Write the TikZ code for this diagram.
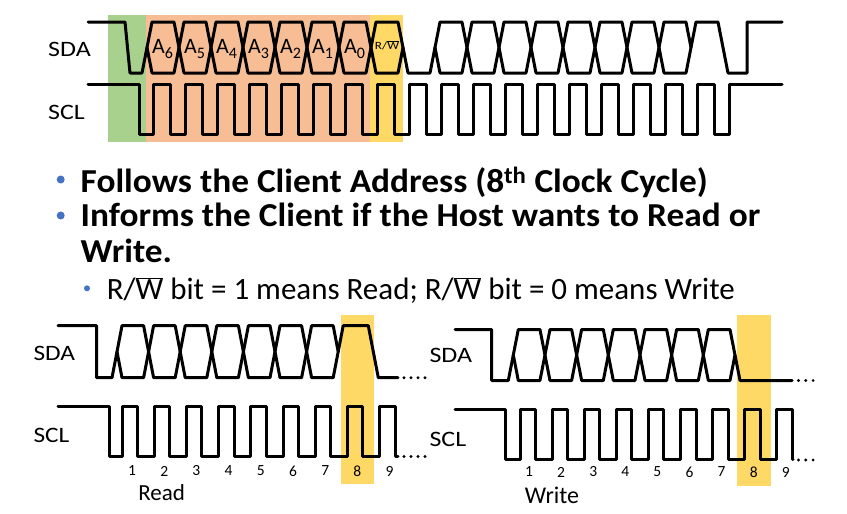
\documentclass[tikz,border=0pt]{standalone}
\usepackage{fontspec}
\setmainfont{Carlito}
\definecolor{gcol}{RGB}{169,209,142}
\definecolor{ocol}{RGB}{247,190,150}
\definecolor{ycol}{RGB}{255,217,102}
\definecolor{bcol}{RGB}{68,114,196}
\newcommand{\rwbar}{R/$\overline{\hbox{W}}$}
\newcommand{\abit}[1]{A{\fontsize{16}{16}\selectfont\raisebox{-4.5pt}{#1}}}
\begin{document}
\begin{tikzpicture}[x=1pt,y=-1pt,
  wave/.style={line width=3pt,line join=round,line cap=round},
  sig/.style={font=\fontsize{22}{24}\selectfont,anchor=base west,inner sep=0pt,xscale=1.18},
  bit/.style={font=\fontsize{22}{24}\selectfont,inner sep=0pt},
  num/.style={font=\fontsize{15.5}{17}\selectfont,inner sep=0pt},
  dotc/.style={fill=black,circle,inner sep=0pt,minimum size=3.2pt},
  big/.style={font=\fontsize{33.5}{36}\selectfont\bfseries,anchor=base west,inner sep=0pt,xscale=1.055},
  small/.style={font=\fontsize{31}{33}\selectfont,anchor=base west,inner sep=0pt},
  captxt/.style={font=\fontsize{24}{26}\selectfont,anchor=base,inner sep=0pt}]
\useasboundingbox (0,0) rectangle (847,514);
% ---------- top diagram ----------
\fill[gcol] (108,15) rectangle (146,142);
\fill[ocol] (146,15) rectangle (370,142);
\fill[ycol] (370,15) rectangle (403,142);
\node[sig] (sdaT) at (48,56.3) {SDA};
\node[sig] (sclT) at (48,119) {SCL};
\draw[wave] (88,22) -- (125,22) -- (130,73) -- (142,73) -- (147,47.5);
\foreach \k in {0,1,2,3,4,5,6,7,9,10,11,12,13,14,15,16}{
  \draw[wave] ({147+32*\k},47.5) -- ({152+32*\k},22) -- ({174+32*\k},22) -- ({179+32*\k},47.5) -- ({174+32*\k},73) -- ({152+32*\k},73) -- cycle;
}
\draw[wave] (403,47.5) -- (408,73) -- (430,73) -- (435,47.5);
\draw[wave] (691,47.5) -- (696,22) -- (718,22) -- (728,73) -- (747,73) -- (747,22) -- (782,22);
\foreach \k/\n in {0/6,1/5,2/4,3/3,4/2,5/1,6/0}{
  \node[bit] (a\n) at ({162.5+32*\k},49) {\abit{\n}};
}
\node[font=\fontsize{11}{12}\selectfont,inner sep=0pt,xscale=1.2] (rwT) at (387,45.5) {\rwbar};
\draw[wave] (88,84) -- (139,84) -- (139,134)
  \foreach \k in {0,...,17}{ -- ({153+32*\k},134) -- ({153+32*\k},84) -- ({170+32*\k},84) -- ({170+32*\k},134)}
  -- (729,134) -- (729,84) -- (782,84);
% ---------- bullets ----------
\fill[bcol] (60.7,179.5) circle (4);
\fill[bcol] (60.7,215.5) circle (4);
\fill[bcol] (87,288.3) circle (3);
\node[big] (l1) at (80.5,192.3) {Follows the Client Address (8\textsuperscript{th} Clock Cycle)};
\node[big] (l2) at (80.5,226.5) {Informs the Client if the Host wants to Read or};
\node[big] (l3) at (80.5,262.5) {Write.};
\node[small] (l4) at (106.7,299) {\rwbar{} bit = 1 means Read; \rwbar{} bit = 0 means Write};
% ---------- bottom left (Read) ----------
\fill[ycol] (341,315) rectangle (374,484);
\node[sig,xscale=0.975] (sdaL) at (33.3,360) {SDA};
\node[sig,xscale=0.975] (sclL) at (33.3,442) {SCL};
\draw[wave] (58,325.7) -- (96.5,325.7) -- (96.5,377.7) -- (112,377.7) -- (117,351.7);
\foreach \k in {0,...,6}{
  \draw[wave] ({117+31.6*\k},351.7) -- ({122+31.6*\k},325.7) -- ({143.6+31.6*\k},325.7) -- ({148.6+31.6*\k},351.7) -- ({143.6+31.6*\k},377.7) -- ({122+31.6*\k},377.7) -- cycle;
}
\draw[wave] (338.2,351.7) -- (343.2,325.7) -- (368.3,325.7) -- (378.3,377.7) -- (398,377.7);
\draw[wave] (58,406.7) -- (109,406.7) -- (109,456)
  \foreach \k in {0,...,8}{ -- ({122+32.2*\k},456) -- ({122+32.2*\k},406.7) -- ({137.5+32.2*\k},406.7) -- ({137.5+32.2*\k},456)}
  -- (398,456);
\foreach \i in {0,...,3}{
  \node[dotc] (dsl\i) at ({404+7*\i},377.7) {};
  \node[dotc] (dcl\i) at ({404+7*\i},456.5) {};
}
\foreach \k in {0,...,8}{
  \pgfmathtruncatemacro{\m}{\k+1}
  \node[num] (nl\k) at ({132+32.2*\k},471) {\m};
}
\node[captxt,font=\fontsize{23}{24}\selectfont] (read) at (161.7,500.7) {Read};
% ---------- bottom right (Write) ----------
\fill[ycol] (737.3,315) rectangle (770.7,485.7);
\node[sig] (sdaR) at (429.3,362.7) {SDA};
\node[sig] (sclR) at (429.3,446) {SCL};
\draw[wave] (455,329.5) -- (491.7,329.5) -- (491.7,380.5) -- (508.3,380.5) -- (513.3,355);
\foreach \k in {0,...,6}{
  \draw[wave] ({513.3+31.67*\k},355) -- ({518.3+31.67*\k},329.5) -- ({539.97+31.67*\k},329.5) -- ({544.97+31.67*\k},355) -- ({539.97+31.67*\k},380.5) -- ({518.3+31.67*\k},380.5) -- cycle;
}
\draw[wave] (735,355) -- (740,380.5) -- (792,380.5);
\draw[wave] (455,409) -- (505,409) -- (505,459.5)
  \foreach \k in {0,...,8}{ -- ({520+32.1*\k},459.5) -- ({520+32.1*\k},409) -- ({535.5+32.1*\k},409) -- ({535.5+32.1*\k},459.5)}
  -- (793,459.5);
\foreach \i in {0,...,2}{
  \node[dotc] (dsr\i) at ({798.5+7.3*\i},380.5) {};
  \node[dotc] (dcr\i) at ({798.5+7.3*\i},460) {};
}
\foreach \k in {0,...,8}{
  \pgfmathtruncatemacro{\m}{\k+1}
  \node[num] (nr\k) at ({529+32.1*\k},472) {\m};
}
\node[captxt] (write) at (552,503.3) {Write};
\end{tikzpicture}
\end{document}
